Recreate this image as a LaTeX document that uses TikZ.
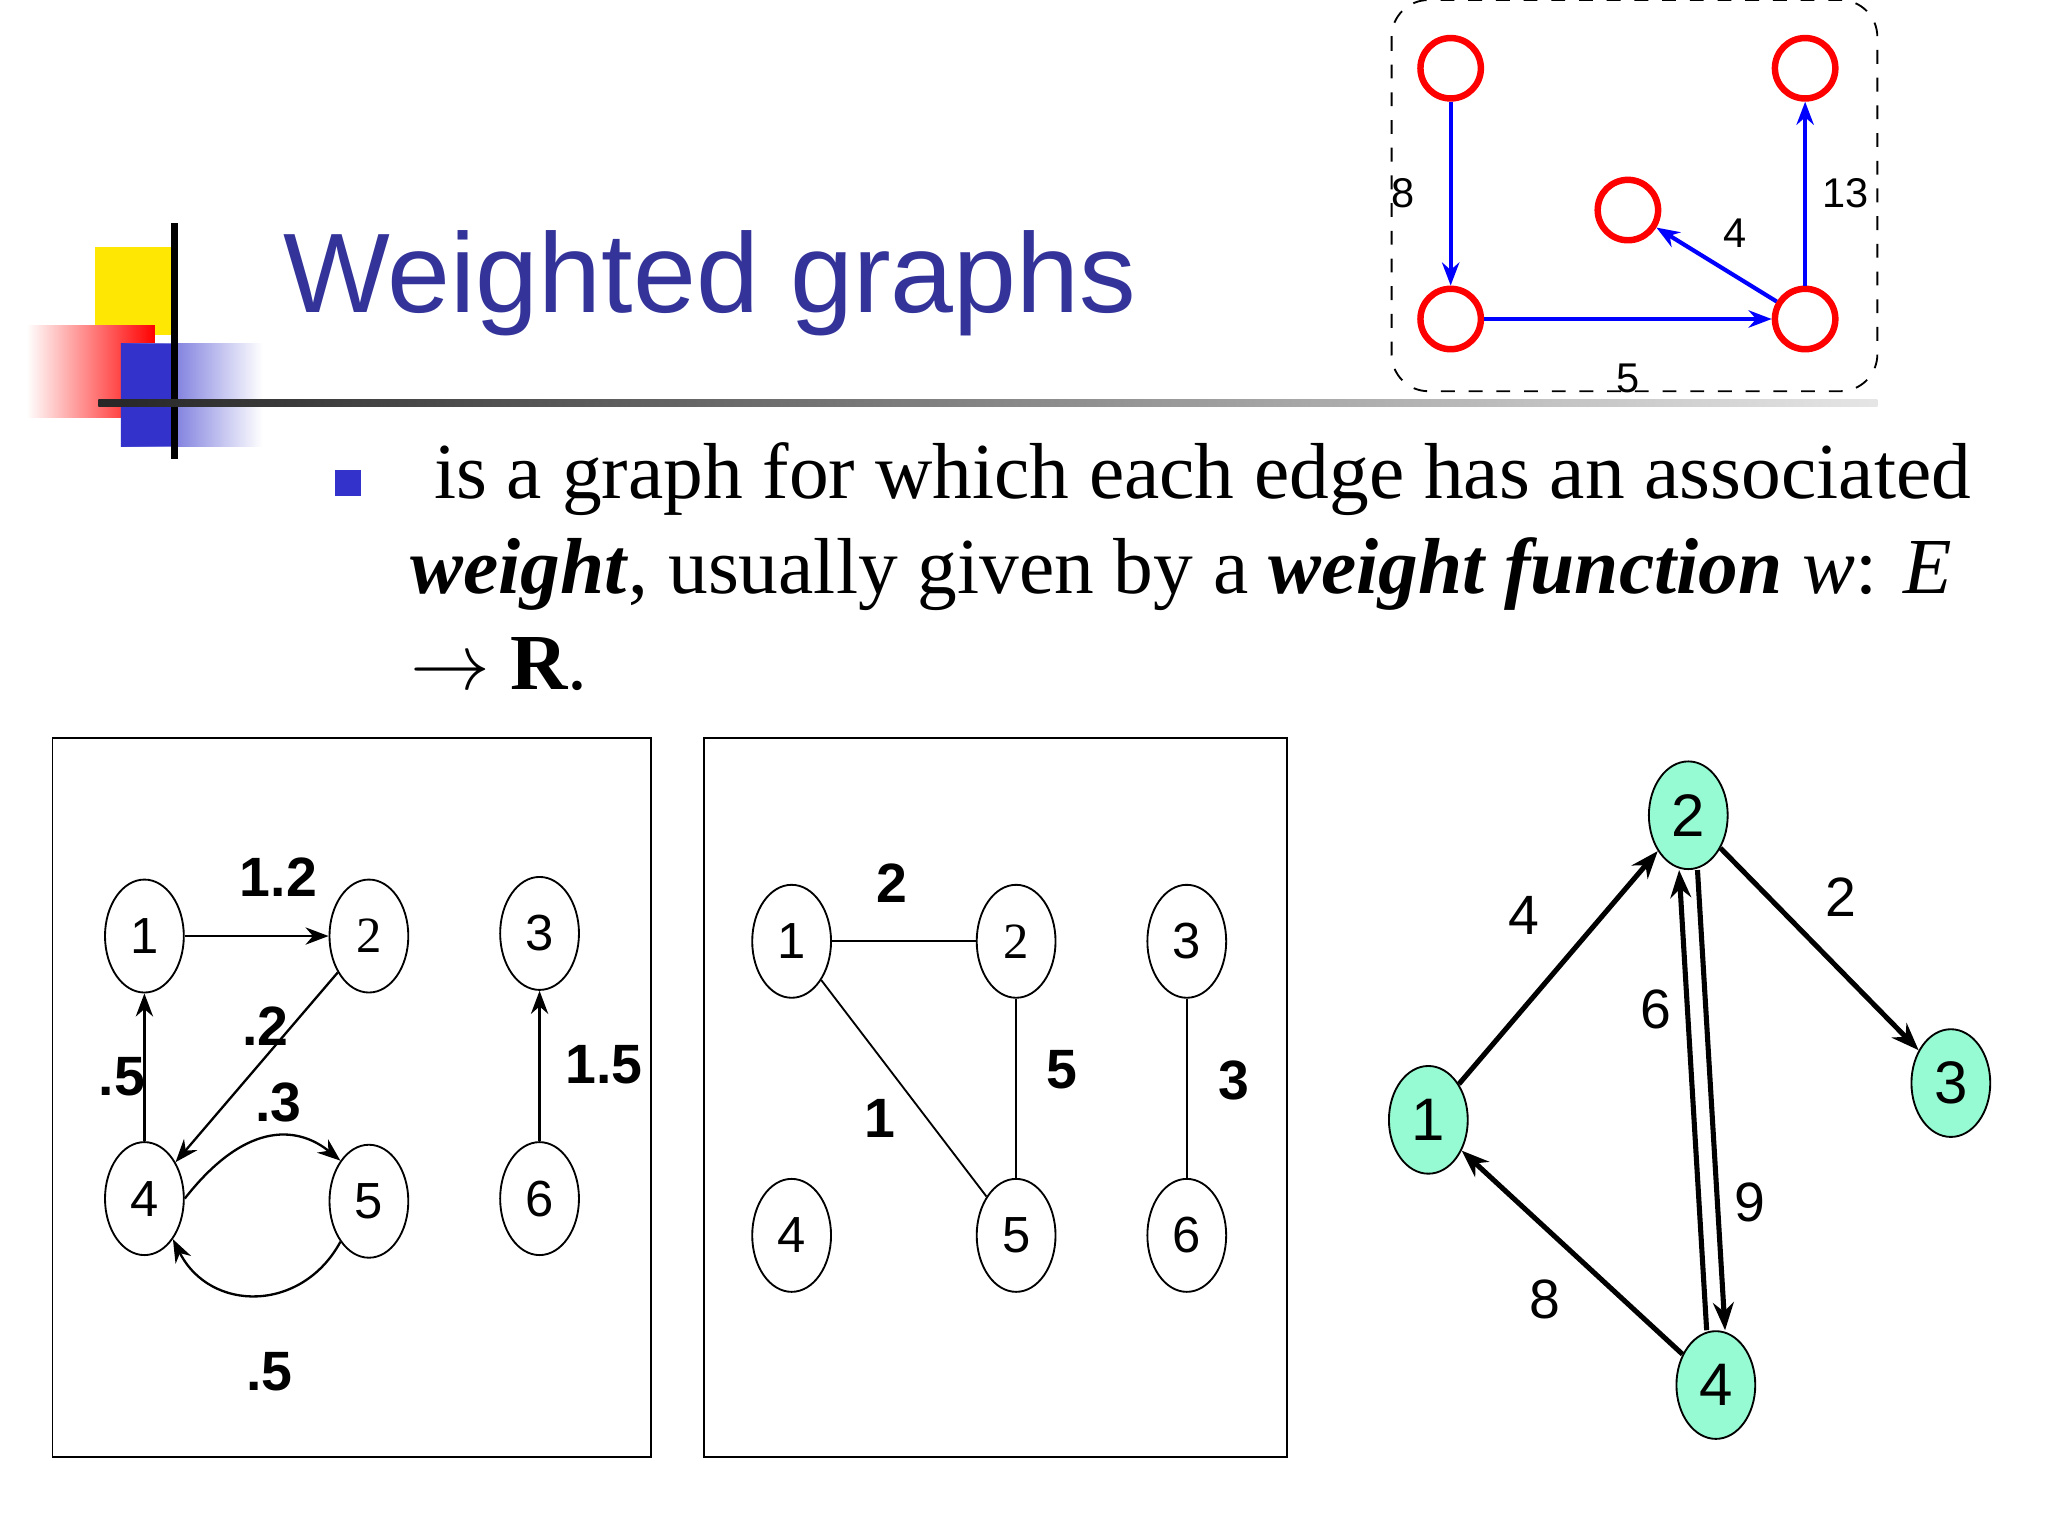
\documentclass[tikz,border=0pt]{standalone}
\usepackage{fontspec}
\setmainfont{Liberation Serif}
\setsansfont{Liberation Sans}
\usetikzlibrary{arrows.meta,shapes.geometric}
\definecolor{titleblue}{RGB}{51,51,153}
\definecolor{nodegreen}{RGB}{150,250,210}
\definecolor{bblue}{RGB}{51,51,204}
\begin{document}
\begin{tikzpicture}[x=0.01cm,y=0.01cm,
 ell/.style={draw,ellipse,minimum width=0.6cm,minimum height=0.86cm,inner sep=0,font=\sffamily\fontsize{11}{11}\selectfont},
 gell/.style={draw,ellipse,fill=nodegreen,minimum width=0.6cm,minimum height=0.82cm,inner sep=0,font=\sffamily\fontsize{13}{13}\selectfont},
 rc/.style={draw=red,line width=1.4pt,circle,minimum size=0.46cm,inner sep=0},
 barr/.style={draw=blue,line width=0.9pt,-{Stealth[length=5pt]}},
 arr/.style={-{Stealth[length=5pt]},line width=0.5pt},
 garr/.style={-{Stealth[length=6pt]},line width=1.1pt},
 bl/.style={font=\sffamily\bfseries\fontsize{12}{12}\selectfont},
 sl/.style={font=\sffamily\fontsize{9}{9}\selectfont},
 gl/.style={font=\sffamily\fontsize{12}{12}\selectfont}]
\useasboundingbox (0,0) rectangle (1560,-1170);
% logo
\fill[yellow!90!orange] (72,-188) rectangle (135,-255);
\shade[left color=white,right color=red] (20,-248) rectangle (118,-318);
\shade[left color=bblue,right color=white] (92,-262) rectangle (200,-340);
\fill[bblue] (92,-262) rectangle (135,-340);
\draw[line width=1.5pt] (133,-170) -- (133,-350);
\shade[left color=black!85,right color=black!10] (75,-304) rectangle (1430,-310);
\node[anchor=base west,inner sep=0,text=titleblue,font=\sffamily\fontsize{24.5}{24.5}\selectfont] (title) at (215,-238) {Weighted graphs};
% bullet
\fill[bblue] (255,-358) rectangle (275,-378) coordinate (bul);
\node[anchor=base west,inner sep=0,font=\fontsize{17.2}{17}\selectfont] (l1) at (330,-380) {is a graph for which each edge has an associated};
\node[anchor=base west,inner sep=0,font=\fontsize{17.2}{17}\selectfont] (l2) at (312,-452) {\textbf{\textit{weight}}, usually given by a \textbf{\textit{weight function}} \textit{w}: \textit{E}};
\node[anchor=base west,inner sep=0,font=\fontsize{17.2}{17}\selectfont] (l3) at (312,-525) {$\rightarrow$ \textbf{R}.};
% top-right
\draw[dashed,rounded corners=8] (1060,0) rectangle (1430,-298);
\node[rc] (a) at (1105,-52) {};
\node[rc] (b) at (1375,-52) {};
\node[rc] (c) at (1240,-160) {};
\node[rc] (d) at (1105,-243) {};
\node[rc] (e) at (1375,-243) {};
\draw[barr] (a) -- node[left,sl,xshift=-4]{8} (d);
\draw[barr] (d) -- node[below,sl,yshift=-6]{5} (e);
\draw[barr] (e) -- node[right,sl]{13} (b);
\draw[barr] (e) -- node[above,sl,xshift=4]{4} (c);
% panel 1
\draw (40,-562) rectangle (496,-1110);
\node[ell] (p1) at (110,-713) {1};
\node[ell,font=\fontsize{11}{11}\selectfont] (p2) at (281,-713) {2};
\node[ell] (p3) at (411,-711) {3};
\node[ell] (p4) at (110,-913) {4};
\node[ell] (p5) at (281,-915) {5};
\node[ell] (p6) at (411,-913) {6};
\draw[arr] (p1) -- (p2);
\node[bl] (q12) at (212,-668) {1.2};
\draw[arr] (p2) -- (p4);
\node[bl] (q24) at (202,-782) {.2};
\draw[arr] (p4) -- (p1);
\node[bl] (q41) at (93,-820) {.5};
\draw[arr] (p6) -- (p3);
\node[bl] (q63) at (460,-811) {1.5};
\draw[arr] (p4.east) .. controls (190,-850) and (230,-860) .. (p5.north west);
\node[bl] (q45) at (212,-840) {.3};
\draw[arr] (p5.south west) .. controls (230,-1000) and (160,-1000) .. (p4.south east);
\node[bl] (q54) at (205,-1045) {.5};
% panel 2
\draw (536,-562) rectangle (980,-1110);
\node[ell] (r1) at (603,-717) {1};
\node[ell,font=\fontsize{11}{11}\selectfont] (r2) at (774,-717) {2};
\node[ell] (r3) at (904,-717) {3};
\node[ell] (r4) at (603,-941) {4};
\node[ell] (r5) at (774,-941) {5};
\node[ell] (r6) at (904,-941) {6};
\draw (r1) -- (r2); \node[bl] (s12) at (679,-673) {2};
\draw (r1) -- (r5); \node[bl] (s15) at (670,-852) {1};
\draw (r2) -- (r5); \node[bl] (s25) at (809,-815) {5};
\draw (r3) -- (r6); \node[bl] (s36) at (940,-823) {3};
% panel 3
\node[gell] (g1) at (1088,-853) {1};
\node[gell] (g2) at (1286,-621) {2};
\node[gell] (g3) at (1486,-825) {3};
\node[gell] (g4) at (1307,-1055) {4};
\draw[garr] (g1) -- (g2); \node[gl] (h12) at (1161,-697) {4};
\draw[garr] (g2) -- (g3); \node[gl] (h23) at (1402,-683) {2};
\draw[garr] ([xshift=0.07cm]g2.south) -- ([xshift=0.07cm]g4.north); \node[gl] (h24) at (1333,-916) {9};
\draw[garr] ([xshift=-0.07cm]g4.north) -- ([xshift=-0.07cm]g2.south); \node[gl] (h42) at (1261,-769) {6};
\draw[garr] (g4) -- (g1); \node[gl] (h41) at (1177,-990) {8};
\end{tikzpicture}
\end{document}
